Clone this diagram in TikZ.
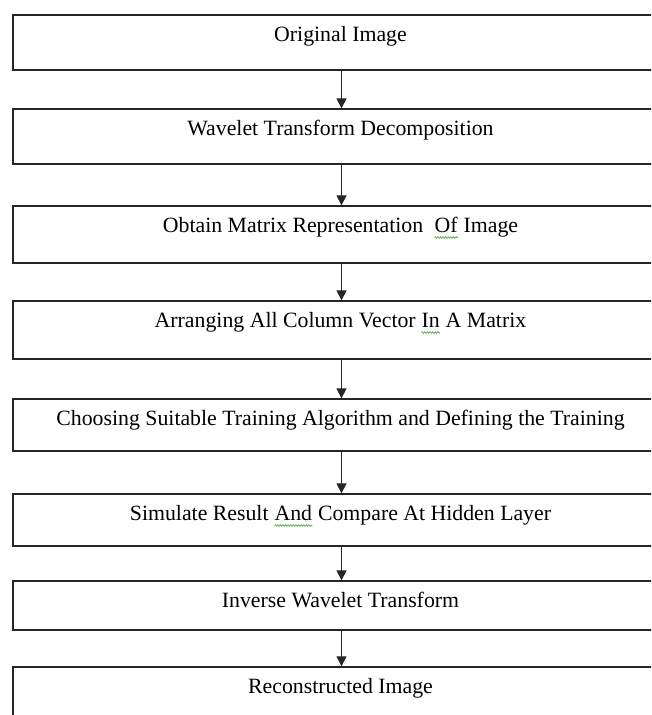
\documentclass[tikz,border=0pt]{standalone}
\usepackage{fontspec}
\setmainfont{Liberation Serif}
\usetikzlibrary{arrows.meta,decorations.pathmorphing}
\definecolor{spellgreen}{RGB}{70,170,60}
\newcommand\gwave[1]{\tikz[baseline=(gw.base),x=1pt,y=1pt]{\node[inner sep=0pt,anchor=base] (gw) at (0,0) {#1};
  \draw[spellgreen,line width=0.6pt,decorate,decoration={snake,amplitude=0.9pt,segment length=2.6pt}] ([yshift=-5pt]gw.base west) -- ([yshift=-5pt]gw.base east);}}
\begin{document}
\begin{tikzpicture}[x=1pt,y=-1pt,
  box/.style={draw=black!85, line width=1.3pt, rectangle, inner sep=0pt, minimum width=657pt},
  lbl/.style={anchor=base, font=\fontsize{21.8}{26}\selectfont, inner sep=0pt},
  arr/.style={-{Triangle[width=10pt,length=10pt]}, line width=1.2pt, draw=black!85}]
\useasboundingbox (0,0) rectangle (651,715);
\clip (0,0) rectangle (651,715);
\node[box, minimum height=55pt] (b1) at (341.5,42.5) {};
\node[box, minimum height=55pt] (b2) at (341.5,136.5) {};
\node[box, minimum height=57pt] (b3) at (341.5,234.5) {};
\node[box, minimum height=58pt] (b4) at (341.5,330) {};
\node[box, minimum height=52pt] (b5) at (341.5,425) {};
\node[box, minimum height=52pt] (b6) at (341.5,520) {};
\node[box, minimum height=49pt] (b7) at (341.5,605.5) {};
\node[box, minimum height=73pt] (b8) at (341.5,703.5) {};
\node[lbl] (t1) at (340.5,41.5) {Original Image};
\node[lbl] (t2) at (340.5,135.5) {Wavelet Transform Decomposition};
\node[lbl] (t3) at (340.5,232.5) {Obtain Matrix Representation \ \gwave{Of} Image};
\node[lbl] (t4) at (340.5,327.5) {Arranging All Column Vector \gwave{In} A Matrix};
\node[lbl] (t5) at (340.5,425.5) {Choosing Suitable Training Algorithm and Defining the Training};
\node[lbl] (t6) at (340.5,520.5) {Simulate Result \gwave{And} Compare At Hidden Layer};
\node[lbl] (t7) at (340.5,607.5) {Inverse Wavelet Transform};
\node[lbl] (t8) at (340.5,693.5) {Reconstructed Image};
\draw[arr] (b1.south) -- (b2.north);
\draw[arr] (b2.south) -- (b3.north);
\draw[arr] (b3.south) -- (b4.north);
\draw[arr] (b4.south) -- (b5.north);
\draw[arr] (b5.south) -- (b6.north);
\draw[arr] (b6.south) -- (b7.north);
\draw[arr] (b7.south) -- (b8.north);
\end{tikzpicture}
\end{document}
